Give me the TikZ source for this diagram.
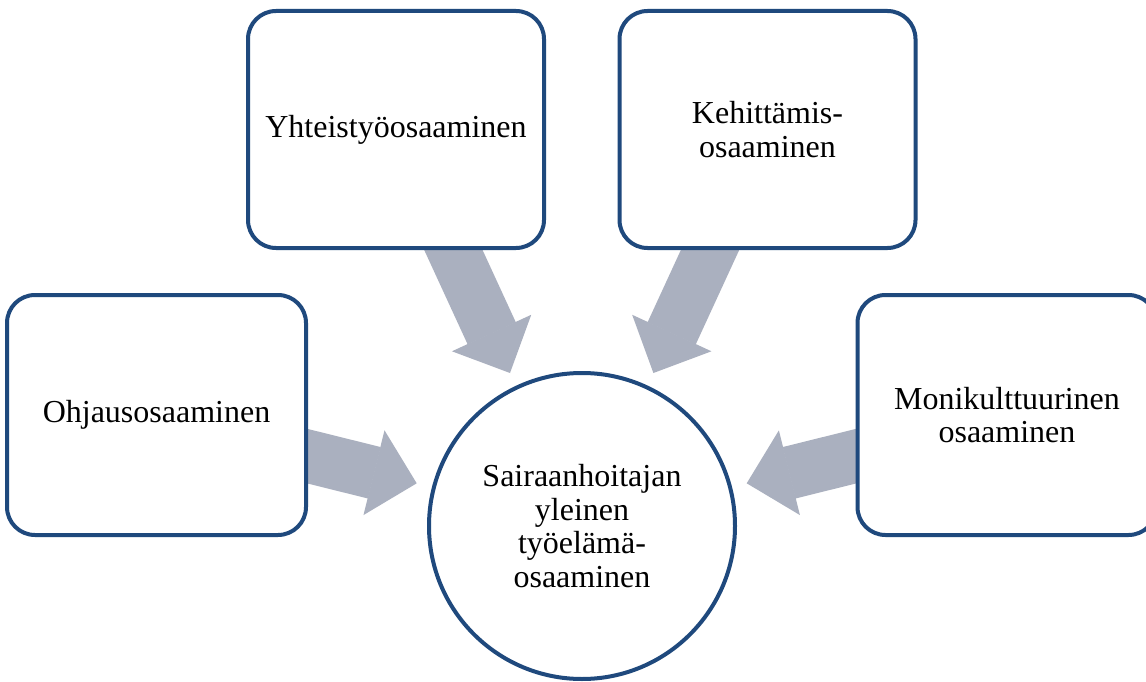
\documentclass[tikz,border=0pt]{standalone}
\usepackage{fontspec}
\setmainfont{Liberation Serif}
\usetikzlibrary{arrows.meta,backgrounds}

\definecolor{frameblue}{RGB}{31,73,125}
\definecolor{arrowgray}{RGB}{170,176,191}

\tikzset{
  label font/.style={font=\fontsize{32}{33.5}\selectfont},
  box/.style={draw=frameblue, line width=4pt, fill=white, rounded corners=28pt,
              align=center, inner sep=0pt, label font},
  topbox/.style={box, minimum width=296pt, minimum height=237pt},
  sidebox/.style={box, minimum width=299pt, minimum height=240pt},
  hub/.style={circle, draw=frameblue, line width=4pt, fill=white,
              minimum size=306pt, align=center, inner sep=0pt, label font},
  blockarrow/.style={draw=arrowgray, line width=53pt,
              -{Triangle[length=44pt,width=87pt,line width=1.5pt]}}
}

\begin{document}
\begin{tikzpicture}[x=1pt, y=-1pt]
  \useasboundingbox (0,0) rectangle (1146,682);
  \clip (0,0) rectangle (1146,682);

  % central competence and the four contributing areas
  \node[hub] (hub) at (582,526) {Sairaanhoitajan\\yleinen\\työelämä-\\osaaminen};
  \node[topbox] (yht) at (396,129.5) {Yhteistyöosaaminen};
  \node[topbox] (keh) at (767.5,129.5) {Kehittämis-\\osaaminen};
  \node[sidebox] (ohj) at (156.5,415) {Ohjausosaaminen};
  \node[sidebox] (mon) at (1007,415) {Monikulttuurinen\\osaaminen};

  % arrow ends: tails sit under the boxes, tips stop short of the circle
  \coordinate (yhtTail) at (440.8,222.7);
  \coordinate (yhtTip)  at (510,373);
  \coordinate (kehTail) at (722.6,222.7);
  \coordinate (kehTip)  at (653.4,373);
  \coordinate (ohjTail) at (276.9,448.6);
  \coordinate (ohjTip)  at (416.7,483.3);
  \coordinate (monTail) at (886.5,448.6);
  \coordinate (monTip)  at (746.7,483.3);

  \begin{scope}[on background layer]
    \fill[white] (0,0) rectangle (1146,682);
    \draw[blockarrow] (yhtTail) -- (yhtTip);
    \draw[blockarrow] (kehTail) -- (kehTip);
    \draw[blockarrow] (ohjTail) -- (ohjTip);
    \draw[blockarrow] (monTail) -- (monTip);
  \end{scope}
\end{tikzpicture}
\end{document}
